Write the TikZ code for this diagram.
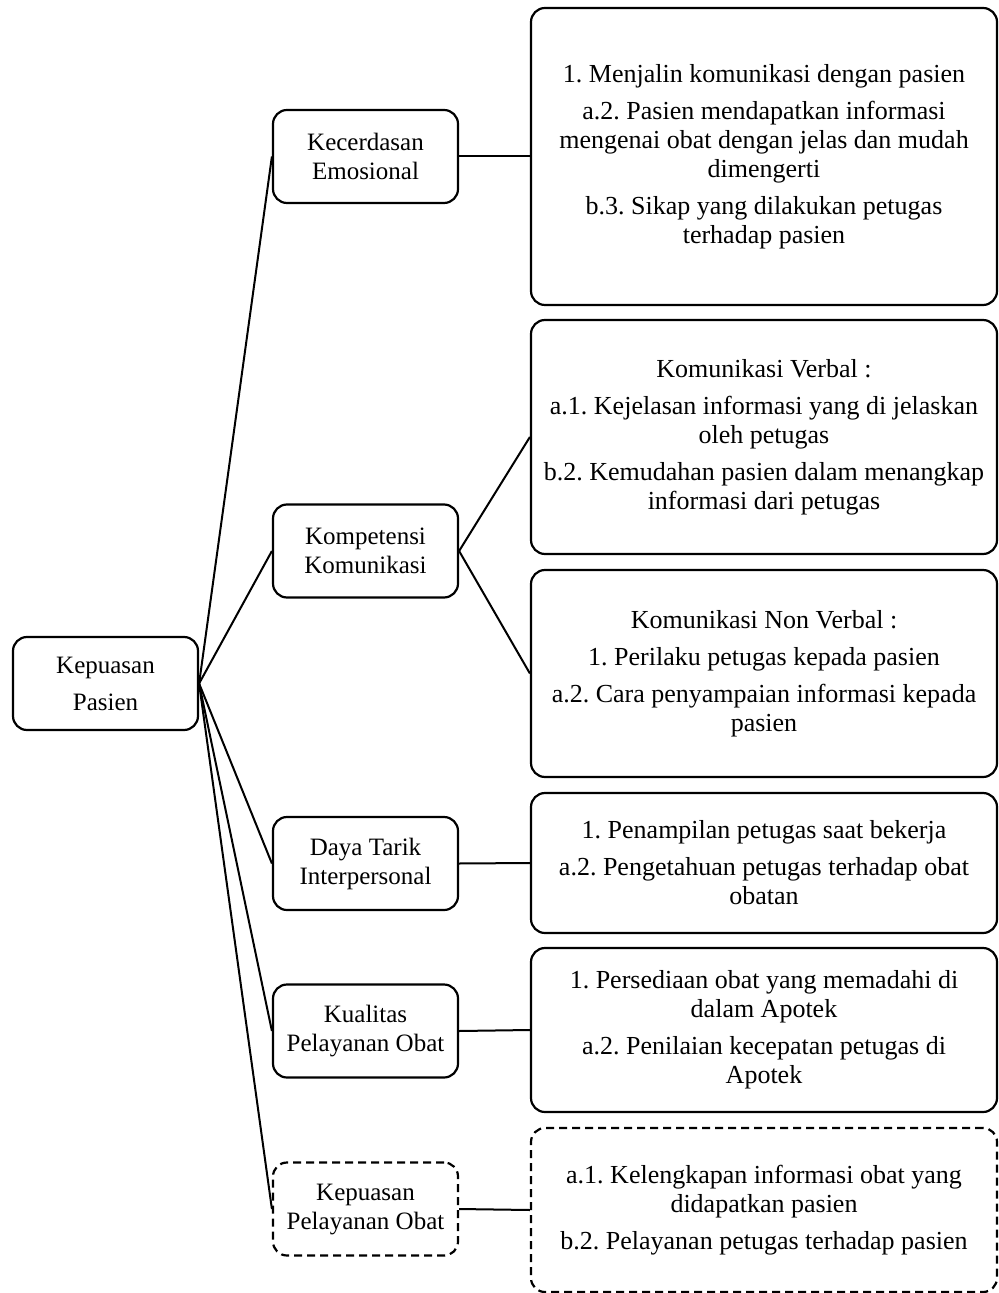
\documentclass[tikz,border=0pt]{standalone}
\usepackage{fontspec}
\setmainfont{Liberation Serif}
\usetikzlibrary{positioning}
\frenchspacing

\begin{document}
\begin{tikzpicture}[x=0.5pt, y=-0.5pt,
    box/.style={draw, line width=1.1pt, rounded corners=7pt, align=center, inner sep=2pt},
    mainbox/.style={box, font=\fontsize{12.5}{14.5}\selectfont,
        minimum width=92.5pt, minimum height=46.5pt},
    detailbox/.style={box, font=\fontsize{13}{14.5}\selectfont, minimum width=233pt},
    dashbox/.style={dash pattern=on 4pt off 2.5pt},
    link/.style={line width=1pt}]
    \useasboundingbox (0,0) rectangle (998,1293);

    % Root
    \node[mainbox] (puas) at (105.5,683.5) {Kepuasan\\[4pt]Pasien};

    % Factors
    \node[mainbox] (emosi) at (365.5,156.5) {Kecerdasan\\Emosional};
    \node[mainbox] (komp) at (365.5,551) {Kompetensi\\Komunikasi};
    \node[mainbox] (daya) at (365.5,863.5) {Daya Tarik\\Interpersonal};
    \node[mainbox] (kual) at (365.5,1031) {Kualitas\\Pelayanan Obat};
    \node[mainbox, dashbox] (layan) at (365.5,1209) {Kepuasan\\Pelayanan Obat};

    % Indicators
    \node[detailbox, minimum height=148.5pt] (ind1) at (764,156.5)
        {1. Menjalin komunikasi dengan pasien\\[4pt]
         a.2. Pasien mendapatkan informasi\\mengenai obat dengan jelas dan mudah\\dimengerti\\[4pt]
         b.3. Sikap yang dilakukan petugas\\terhadap pasien};
    \node[detailbox, minimum height=117pt] (ind2) at (764,437)
        {Komunikasi Verbal :\\[4pt]
         a.1. Kejelasan informasi yang di jelaskan\\oleh petugas\\[4pt]
         b.2. Kemudahan pasien dalam menangkap\\informasi dari petugas};
    \node[detailbox, minimum height=103.5pt] (ind3) at (764,673.5)
        {Komunikasi Non Verbal :\\[4pt]
         1. Perilaku petugas kepada pasien\\[4pt]
         a.2. Cara penyampaian informasi kepada\\pasien};
    \node[detailbox, minimum height=70pt] (ind4) at (764,863)
        {1. Penampilan petugas saat bekerja\\[4pt]
         a.2. Pengetahuan petugas terhadap obat\\obatan};
    \node[detailbox, minimum height=82pt] (ind5) at (764,1030)
        {1. Persediaan obat yang memadahi di\\dalam Apotek\\[4pt]
         a.2. Penilaian kecepatan petugas di\\Apotek};
    \node[detailbox, dashbox, minimum height=82pt] (ind6) at (764,1210)
        {a.1. Kelengkapan informasi obat yang\\didapatkan pasien\\[4pt]
         b.2. Pelayanan petugas terhadap pasien};

    % Connectors
    \foreach \f in {emosi,komp,daya,kual,layan}
        \draw[link] (puas.east) -- (\f.west);
    \draw[link] (emosi.east) -- (ind1.west);
    \draw[link] (komp.east) -- (ind2.west);
    \draw[link] (komp.east) -- (ind3.west);
    \draw[link] (daya.east) -- (ind4.west);
    \draw[link] (kual.east) -- (ind5.west);
    \draw[link] (layan.east) -- (ind6.west);
\end{tikzpicture}
\end{document}
